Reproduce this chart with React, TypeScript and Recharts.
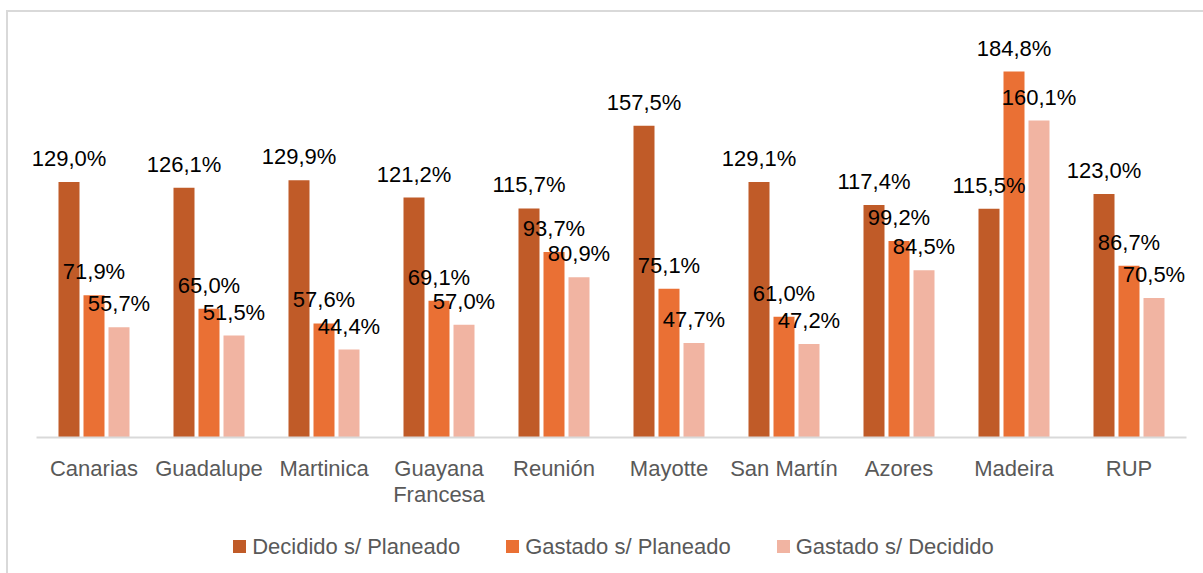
import { BarChart, Bar, XAxis, YAxis, LabelList, Legend } from "recharts";

const categories = [
  "Canarias",
  "Guadalupe",
  "Martinica",
  "Guayana\nFrancesa",
  "Reunión",
  "Mayotte",
  "San Martín",
  "Azores",
  "Madeira",
  "RUP",
];
const decididoPlaneado = [129.0, 126.1, 129.9, 121.2, 115.7, 157.5, 129.1, 117.4, 115.5, 123.0];
const gastadoPlaneado = [71.9, 65.0, 57.6, 69.1, 93.7, 75.1, 61.0, 99.2, 184.8, 86.7];
const gastadoDecidido = [55.7, 51.5, 44.4, 57.0, 80.9, 47.7, 47.2, 84.5, 160.1, 70.5];

const series = [
  { key: "decidido", name: "Decidido s/ Planeado", color: "#C05B28" },
  { key: "gastadoPlan", name: "Gastado s/ Planeado", color: "#EA7034" },
  { key: "gastadoDec", name: "Gastado s/ Decidido", color: "#F1B4A2" },
];

const data = categories.map((name, i) => ({
  name,
  decidido: decididoPlaneado[i],
  gastadoPlan: gastadoPlaneado[i],
  gastadoDec: gastadoDecidido[i],
}));

const FONT = '"Liberation Sans", Arial, sans-serif';

const fmt = (v: any) => Number(v).toFixed(1).replace(".", ",") + "%";

const CategoryTick = (props: any) => {
  const { x, y, payload } = props;
  const lines = String(payload.value).split("\n");
  return (
    <text x={x} y={y} textAnchor="middle" fill="#595959" fontSize={22} fontFamily={FONT}>
      {lines.map((line, i) => (
        <tspan key={i} x={x} dy={i === 0 ? 38 : 26}>
          {line}
        </tspan>
      ))}
    </text>
  );
};

const renderLegend = () => (
  <div
    style={{
      display: "flex",
      justifyContent: "center",
      alignItems: "center",
      fontFamily: FONT,
      fontSize: 22,
      lineHeight: "26px",
      color: "#595959",
    }}
  >
    {series.map((s, i) => (
      <div
        key={s.key}
        style={{ display: "flex", alignItems: "center", marginLeft: i === 0 ? 0 : 46 }}
      >
        <span
          style={{ width: 13, height: 13, background: s.color, marginRight: 6, display: "inline-block" }}
        />
        <span>{s.name}</span>
      </div>
    ))}
  </div>
);

export default function App() {
  return (
    <div
      style={{
        position: "absolute",
        left: 0,
        top: 0,
        width: 1203,
        height: 573,
        overflow: "hidden",
        background: "#fff",
      }}
    >
      <div
        style={{
          position: "absolute",
          left: 6,
          top: 10,
          width: 1300,
          height: 700,
          borderLeft: "2px solid #d9d9d9",
          borderTop: "2px solid #d9d9d9",
        }}
      />
      <div style={{ position: "absolute", left: 0, top: 0 }}>
        <BarChart
          width={1203}
          height={573}
          data={data}
          margin={{ top: 41.5, right: 16.5, bottom: 75.5, left: 36.5 }}
          barSize={21}
          barGap={4}
        >
          <XAxis
            dataKey="name"
            height={60}
            axisLine={{ stroke: "#d9d9d9", strokeWidth: 2 }}
            tickLine={false}
            tickSize={0}
            tickMargin={0}
            interval={0}
            tick={<CategoryTick />}
          />
          <YAxis hide domain={[0, 200]} />
          <Legend
            layout="horizontal"
            verticalAlign="middle"
            align="center"
            wrapperStyle={{ top: 533.5, left: 0, width: 1227 }}
            content={renderLegend}
          />
          {series.map((s) => (
            <Bar key={s.key} dataKey={s.key} name={s.name} fill={s.color} isAnimationActive={false}>
              <LabelList
                dataKey={s.key}
                position="top"
                offset={16}
                formatter={fmt}
                fill="#000"
                fontSize={22}
                fontFamily={FONT}
              />
            </Bar>
          ))}
        </BarChart>
      </div>
    </div>
  );
}
